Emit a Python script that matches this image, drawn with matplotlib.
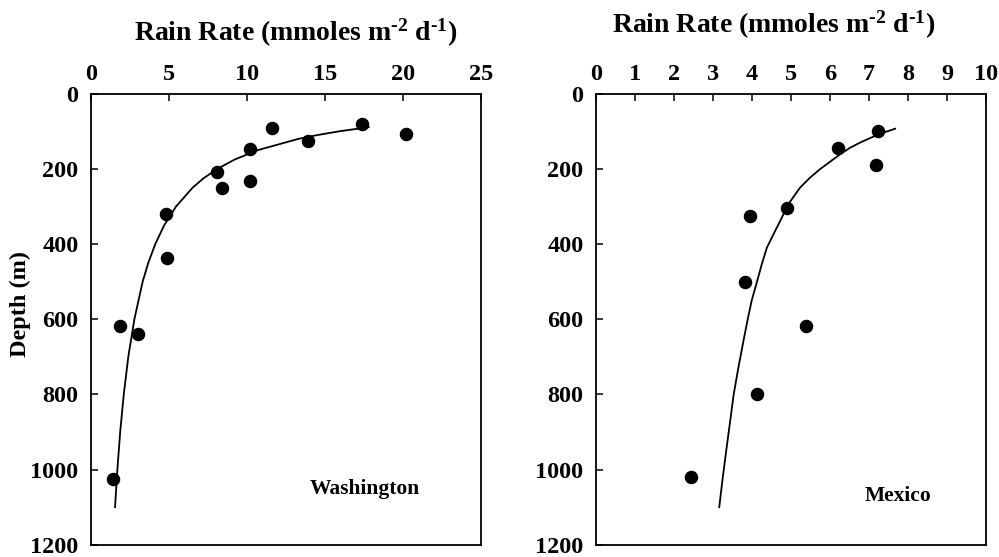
import matplotlib
matplotlib.use("Agg")
import matplotlib.pyplot as plt

# Washington: observed rain rates and depths
wa_rate = [17.4, 20.2, 11.6, 13.9, 10.2, 8.1, 8.4, 10.2, 4.8, 4.85, 1.86, 3.03, 1.43]
wa_depth = [80, 106, 90, 125, 146, 208, 251, 233, 319, 437, 618, 639, 1025]
# Washington fitted curve
wa_fit_depth = [89, 100, 110, 120, 150, 175, 200, 225, 250, 300, 350, 400, 450, 500,
                600, 700, 800, 900, 1000, 1100]
wa_fit_rate = [17.8, 15.9, 14.5, 13.3, 10.7, 9.21, 8.09, 7.21, 6.51, 5.45, 4.69, 4.12, 3.67, 3.31,
               2.78, 2.39, 2.10, 1.87, 1.69, 1.54]

# Mexico
mx_rate = [7.22, 6.20, 7.17, 4.91, 3.95, 3.82, 5.38, 4.12, 2.44]
mx_depth = [98, 144, 189, 303, 325, 500, 619, 798, 1019]
mx_fit_depth = [93, 108, 130, 144, 161, 181, 201, 223, 250, 294, 339, 374, 410, 454, 503, 551,
                600, 658, 729, 800, 871, 941, 1021, 1100]
mx_fit_rate = [7.67, 7.24, 6.77, 6.51, 6.26, 6.0, 5.74, 5.49, 5.23, 4.93, 4.72, 4.55, 4.38, 4.25,
               4.12, 3.99, 3.89, 3.78, 3.65, 3.53, 3.44, 3.35, 3.25, 3.16]

wa_xticks = [0, 5, 10, 15, 20, 25]
mx_xticks = list(range(0, 11))
depth_ticks = [0, 200, 400, 600, 800, 1000, 1200]

plt.rcParams['font.family'] = ['Liberation Serif', 'DejaVu Serif']
plt.rcParams['font.weight'] = 'bold'
plt.rcParams['mathtext.fontset'] = 'custom'
plt.rcParams['mathtext.rm'] = 'Liberation Serif:bold'
plt.rcParams['mathtext.it'] = 'Liberation Serif:bold'
plt.rcParams['mathtext.bf'] = 'Liberation Serif:bold'
plt.rcParams['mathtext.default'] = 'rm'

fig = plt.figure(figsize=(9.99, 5.57), dpi=100)
ax1 = fig.add_axes([0.0911, 0.022, 0.3904, 0.8097])
ax2 = fig.add_axes([0.5966, 0.022, 0.3904, 0.8097])

titre = r'Rain Rate (mmoles m$^{\text{-}2}$ d$^{\text{-}1}$)'


def panel(ax, rate, depth, fit_rate, fit_depth, xmax, xticks, nom, nom_xy, titre_xy):
    ax.plot(fit_rate, fit_depth, color='black', lw=1.3)
    ax.plot(rate, depth, 'o', color='black', markersize=8.7)
    ax.set_xlim(0, xmax)
    ax.set_ylim(1200, 0)
    ax.set_xticks(xticks)
    ax.set_yticks(depth_ticks)
    ax.xaxis.tick_top()
    ax.tick_params(axis='both', direction='in', length=5, width=1.1, labelsize=17.5, pad=9)
    ax.tick_params(axis='x', top=True, bottom=False, pad=6)
    ax.tick_params(axis='y', left=True, right=False)
    for s in ax.spines.values():
        s.set_linewidth(1.3)
    ax.text(nom_xy[0], nom_xy[1], nom, transform=ax.transAxes, ha='center',
            va='baseline', fontsize=15.5, fontweight='bold')
    ax.text(titre_xy[0], titre_xy[1], titre, transform=ax.transAxes, ha='center',
            va='baseline', fontsize=20, fontweight='bold')


panel(ax1, wa_rate, wa_depth, wa_fit_rate, wa_fit_depth, 25, wa_xticks,
      'Washington', (0.703, 0.112), (0.525, 1.1175))
panel(ax2, mx_rate, mx_depth, mx_fit_rate, mx_fit_depth, 10, mx_xticks,
      'Mexico', (0.774, 0.097), (0.455, 1.135))

ax1.set_ylabel('Depth (m)', fontsize=17.5, fontweight='bold')
ax1.yaxis.set_label_coords(-0.154, 0.534)

plt.savefig('out.png', dpi=100)
